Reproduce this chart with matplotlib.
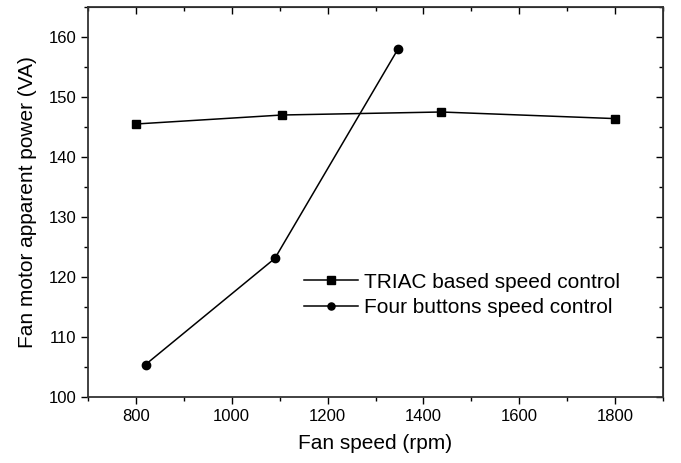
import matplotlib
matplotlib.use("Agg")
import matplotlib.pyplot as plt
from matplotlib.ticker import MultipleLocator

plt.rcParams['font.family'] = ['Liberation Sans', 'DejaVu Sans']

# TRIAC based speed control
triac_speed = [800, 1105, 1437, 1800]
triac_power = [145.5, 147.0, 147.5, 146.4]

# Four buttons speed control
buttons_speed = [820, 1090, 1347]
buttons_power = [105.4, 123.1, 158.0]

fig = plt.figure(figsize=(6.81, 4.63), dpi=100)
ax = fig.add_axes([88 / 681, 1 - 397 / 463, 575 / 681, 390 / 463])

ax.plot(triac_speed, triac_power, 'k-s', lw=1.1, ms=6, label='TRIAC based speed control')
ax.plot(buttons_speed, buttons_power, 'k-o', lw=1.1, ms=6, label='Four buttons speed control')

ax.set_xlim(700, 1900)
ax.set_ylim(100, 165)
ax.xaxis.set_major_locator(MultipleLocator(200))
ax.xaxis.set_minor_locator(MultipleLocator(100))
ax.yaxis.set_major_locator(MultipleLocator(10))
ax.yaxis.set_minor_locator(MultipleLocator(5))

ax.tick_params(which='both', direction='out', labelsize=12, width=1)
ax.tick_params(which='major', length=5)
ax.tick_params(which='minor', length=3)

# mirrored ticks on top and right, pointing inward
top = ax.secondary_xaxis('top')
top.xaxis.set_major_locator(MultipleLocator(200))
top.xaxis.set_minor_locator(MultipleLocator(100))
top.tick_params(which='both', direction='in', labeltop=False, width=1)
top.tick_params(which='major', length=5)
top.tick_params(which='minor', length=3)
right = ax.secondary_yaxis('right')
right.yaxis.set_major_locator(MultipleLocator(10))
right.yaxis.set_minor_locator(MultipleLocator(5))
right.tick_params(which='both', direction='in', labelright=False, width=1)
right.tick_params(which='major', length=5)
right.tick_params(which='minor', length=3)

for s in ax.spines.values():
    s.set_linewidth(1.3)
    s.set_color('#333333')

ax.set_xlabel('Fan speed (rpm)', fontsize=15, labelpad=7)
ax.set_ylabel('Fan motor apparent power (VA)', fontsize=15, labelpad=8)

ax.legend(loc='center left', bbox_to_anchor=(0.375, 0.262), frameon=False,
          borderaxespad=0, borderpad=0, markerscale=0.85,
          fontsize=15, handlelength=2.6, labelspacing=0.3, handletextpad=0.3)

fig.savefig('out.png', dpi=100)
